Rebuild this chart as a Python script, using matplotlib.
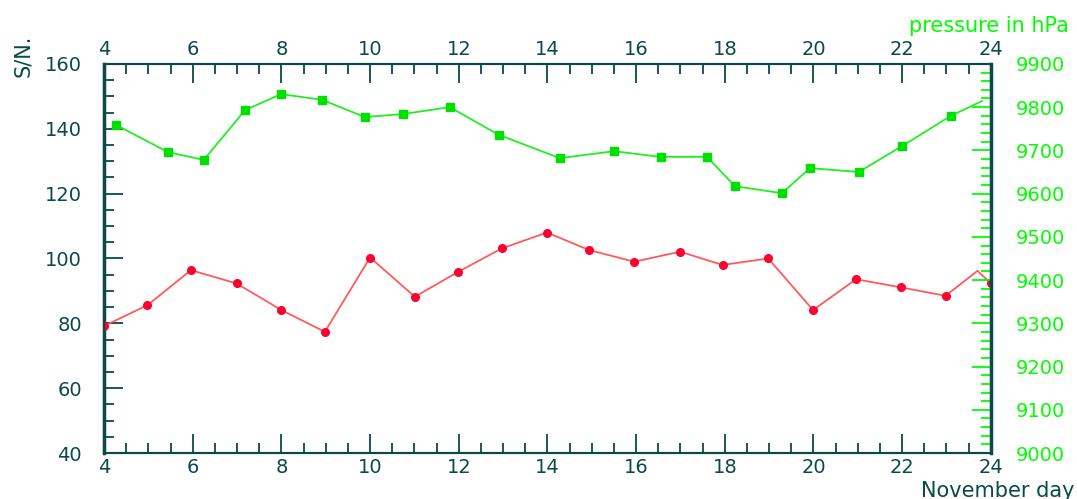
import matplotlib
matplotlib.use("Agg")
import matplotlib.pyplot as plt
from matplotlib.ticker import MultipleLocator

# S/N values (left axis)
sn_day = [4.0, 4.98, 5.96, 6.99, 8.0, 8.98, 10.0, 11.01, 11.99, 12.97, 13.99,
          14.94, 15.96, 16.99, 17.95, 18.98, 19.99, 20.96, 21.97, 22.98, 23.7, 24.0]
sn_val = [79.2, 85.6, 96.4, 92.3, 84.1, 77.4, 100.3, 88.2, 95.9, 103.1, 108.0,
          102.6, 99.0, 102.1, 98.0, 100.0, 84.1, 93.6, 91.1, 88.5, 96.2, 92.3]
sn_marks = [i for i in range(len(sn_day)) if i != 20]

# pressure in hPa (right axis)
p_day = [4.27, 5.44, 6.25, 7.18, 7.99, 8.92, 9.88, 10.74, 11.8, 12.9, 14.28,
         15.5, 16.55, 17.6, 18.23, 19.29, 19.92, 21.02, 22.0, 23.1, 23.8]
p_val = [9759, 9696, 9678, 9793, 9830, 9817, 9777, 9784, 9800, 9736, 9682,
         9698, 9685, 9685, 9617, 9601, 9659, 9650, 9710, 9780, 9814]
p_marks = list(range(len(p_day) - 1))

teal = "#0a4a48"
green = "#00ff00"

fig = plt.figure(figsize=(10.77, 4.99), dpi=100)
ax = fig.add_axes([0.0966, 0.092, 0.8234, 0.78])
ax2 = ax.twinx()

ax.plot(sn_day, sn_val, color="#ff5a5a", lw=1.3, marker="o", ms=5.5,
        mfc="#ff0030", mec="#ff0030", markevery=sn_marks, zorder=3)
ax2.plot(p_day, p_val, color="#22ee22", lw=1.3, marker="s", ms=5.5,
         mfc="#00e000", mec="#00e000", markevery=p_marks, zorder=3)

ax.set_xlim(4, 24)
ax.set_ylim(40, 160)
ax2.set_ylim(9000, 9900)

ax.xaxis.set_major_locator(MultipleLocator(2))
ax.xaxis.set_minor_locator(MultipleLocator(0.5))
ax.yaxis.set_major_locator(MultipleLocator(20))
ax.yaxis.set_minor_locator(MultipleLocator(5))
ax2.yaxis.set_major_locator(MultipleLocator(100))
ax2.yaxis.set_minor_locator(MultipleLocator(20))

ax.tick_params(axis="both", which="major", direction="in", length=14, width=1.3,
               color=teal, labelcolor=teal, labelsize=14, top=True, labeltop=True)
ax.tick_params(axis="y", which="major", pad=16)
ax.tick_params(axis="both", which="minor", direction="in", length=7, width=1.3,
               color=teal, top=True)
ax.tick_params(axis="y", which="both", right=False)
ax2.tick_params(axis="y", which="major", direction="in", length=14, width=1.3,
                color=green, labelcolor=green, labelsize=14, pad=18)
ax2.tick_params(axis="y", which="minor", direction="in", length=7, width=1.3,
                color=green)

for a in (ax, ax2):
    for s in a.spines.values():
        s.set_color(teal)
        s.set_linewidth(1.5)
ax.spines["left"].set_linewidth(2.5)
ax2.spines["right"].set_linewidth(2.5)

fig.text(0.012, 0.93, "S/N.", rotation=90, color=teal, fontsize=15, va="top")
fig.text(0.992, 0.935, "pressure in hPa", color=green, fontsize=15, ha="right")
fig.text(0.998, 0.005, "November day", color=teal, fontsize=15, ha="right")

fig.savefig("out.png", dpi=100, facecolor="white")
